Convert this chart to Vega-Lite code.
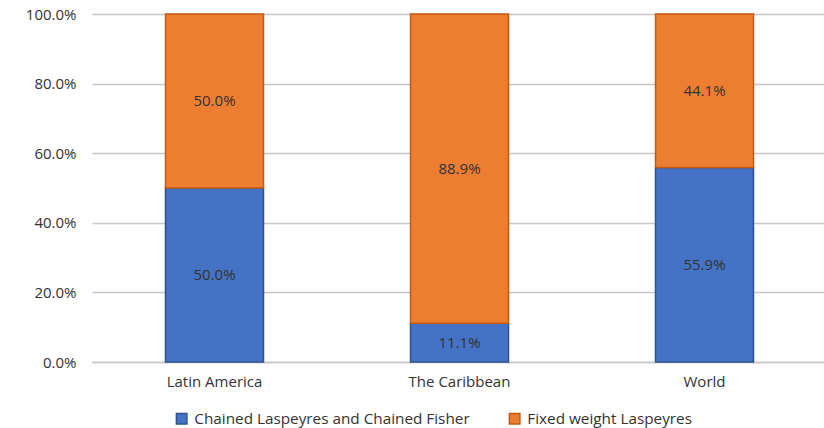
{
  "$schema": "https://vega.github.io/schema/vega-lite/v6.json",
  "autosize": {"type": "none"},
  "padding": {"left": 92, "top": 14, "right": 0, "bottom": 66},
  "width": 735,
  "height": 348,
  "background": "white",
  "config": {
    "view": {"stroke": null},
    "font": "Open Sans",
    "axis": {"labelFont": "Open Sans", "labelFontSize": 15, "labelColor": "#333333"},
    "legend": {"labelFont": "Open Sans", "labelFontSize": 15.3, "labelColor": "#333333", "labelLimit": 0}
  },
  "data": {
    "values": [
      {"region": "Latin America", "method": "Chained Laspeyres and Chained Fisher", "rank": 1, "share": 0.5},
      {"region": "Latin America", "method": "Fixed weight Laspeyres", "rank": 2, "share": 0.5},
      {"region": "The Caribbean", "method": "Chained Laspeyres and Chained Fisher", "rank": 1, "share": 0.111},
      {"region": "The Caribbean", "method": "Fixed weight Laspeyres", "rank": 2, "share": 0.889},
      {"region": "World", "method": "Chained Laspeyres and Chained Fisher", "rank": 1, "share": 0.559},
      {"region": "World", "method": "Fixed weight Laspeyres", "rank": 2, "share": 0.441}
    ]
  },
  "encoding": {
    "x": {
      "field": "region",
      "type": "nominal",
      "sort": ["Latin America", "The Caribbean", "World"],
      "scale": {"paddingInner": 0.6, "paddingOuter": 0.3},
      "axis": {
        "title": null,
        "labelAngle": 0,
        "labelPadding": 12,
        "domain": true,
        "domainColor": "#c8c8c8",
        "domainWidth": 1.5,
        "ticks": false
      }
    }
  },
  "layer": [
    {
      "mark": {"type": "bar", "strokeWidth": 1.5},
      "encoding": {
        "y": {
          "field": "share",
          "type": "quantitative",
          "stack": "zero",
          "scale": {"domain": [0, 1], "nice": false},
          "axis": {
            "title": null,
            "format": ".1%",
            "values": [0, 0.2, 0.4, 0.6, 0.8, 1],
            "domain": false,
            "ticks": false,
            "labelPadding": 16,
            "gridColor": "#c8c8c8",
            "gridWidth": 1.5
          }
        },
        "order": {"field": "rank", "type": "quantitative", "sort": "ascending"},
        "color": {
          "field": "method",
          "type": "nominal",
          "scale": {
            "domain": ["Chained Laspeyres and Chained Fisher", "Fixed weight Laspeyres"],
            "range": ["#4472C4", "#ED7D31"]
          },
          "legend": {
            "title": null,
            "orient": "none",
            "direction": "horizontal",
            "legendX": 82,
            "legendY": 397,
            "symbolType": "square",
            "symbolSize": 110,
            "symbolStrokeWidth": 1.5,
            "symbolOffset": 0,
            "labelOffset": 5,
            "columnPadding": 36
          }
        },
        "stroke": {
          "field": "method",
          "type": "nominal",
          "scale": {
            "domain": ["Chained Laspeyres and Chained Fisher", "Fixed weight Laspeyres"],
            "range": ["#2F528F", "#C55A11"]
          },
          "legend": null
        }
      }
    },
    {
      "mark": {"type": "text", "fontSize": 15, "color": "#333333", "baseline": "middle"},
      "encoding": {
        "y": {"field": "share", "type": "quantitative", "stack": "zero", "bandPosition": 0.5},
        "order": {"field": "rank", "type": "quantitative", "sort": "ascending"},
        "text": {"field": "share", "type": "quantitative", "format": ".1%"}
      }
    }
  ]
}
